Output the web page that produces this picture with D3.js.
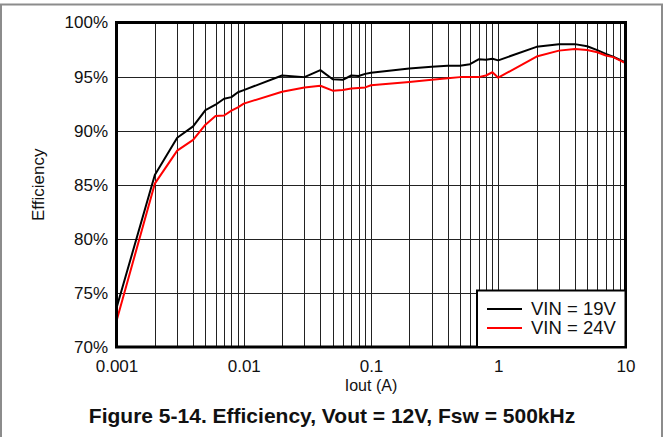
<!DOCTYPE html>
<html>
<head>
<meta charset="utf-8">
<script src="https://cdn.jsdelivr.net/npm/d3@7"></script>
<style>
  body { margin: 0; background: #fff; }
  svg { display: block; font-family: "Liberation Sans", Arial, sans-serif; }
  .grid line { stroke: #222; stroke-width: 1; shape-rendering: crispEdges; }
  .axis path, .axis line { display: none; }
  .axis text { font-size: 17px; fill: #111; }
</style>
</head>
<body>
<div id="chart"></div>
<script>
// load current (A)
var iout = [0.001, 0.002, 0.003, 0.004, 0.005, 0.006, 0.007, 0.008, 0.009, 0.01,
            0.02, 0.03, 0.04, 0.05, 0.06, 0.07, 0.08, 0.09, 0.1,
            0.2, 0.3, 0.4, 0.5, 0.6, 0.7, 0.8, 0.9, 1,
            2, 3, 4, 5, 6, 7, 8, 10];

// efficiency (%) for each input voltage
var vin19 = [73.6, 85.9, 89.35, 90.4, 91.9, 92.4, 92.95, 93.1, 93.55, 93.75,
             95.1, 94.95, 95.6, 94.75, 94.7, 95.1, 95.05, 95.25, 95.35,
             95.75, 95.9, 96.0, 96.0, 96.15, 96.6, 96.55, 96.65, 96.5,
             97.75, 98.0, 98.0, 97.8, 97.45, 97.1, 96.85, 96.3];
var vin24 = [72.4, 85.1, 88.15, 89.15, 90.55, 91.35, 91.4, 91.85, 92.15, 92.5,
             93.6, 94.0, 94.15, 93.7, 93.75, 93.9, 93.95, 94.0, 94.2,
             94.5, 94.7, 94.85, 94.95, 94.95, 94.95, 95.1, 95.4, 94.9,
             96.85, 97.4, 97.55, 97.45, 97.25, 96.95, 96.8, 96.25];

var seriesNames = ["VIN = 19V", "VIN = 24V"];
var seriesColors = ["#000000", "#ff0000"];

var xTicks = [0.001, 0.01, 0.1, 1, 10];
var xTickLabels = ["0.001", "0.01", "0.1", "1", "10"];
var yTicks = [70, 75, 80, 85, 90, 95, 100];

var width = 664, height = 437;
var mLeft = 116.5, mRight = 625.5, mTop = 22.5, mBottom = 347;

var svg = d3.select("#chart").append("svg")
    .attr("width", width)
    .attr("height", height);

// page frame
svg.append("rect")
    .attr("x", 1).attr("y", 4.5)
    .attr("width", 661).attr("height", 440)
    .attr("fill", "none")
    .attr("stroke", "#8c8c8c")
    .attr("stroke-width", 2);

var x = d3.scaleLog().domain([0.001, 10]).range([mLeft, mRight]);
var y = d3.scaleLinear().domain([70, 100]).range([mBottom, mTop]);

// grid
var grid = svg.append("g").attr("class", "grid");
grid.selectAll(".vx")
    .data(x.ticks())
  .enter().append("line")
    .attr("x1", d => Math.round(x(d)) + 0.5)
    .attr("x2", d => Math.round(x(d)) + 0.5)
    .attr("y1", mTop).attr("y2", mBottom);
grid.selectAll(".hy")
    .data(yTicks)
  .enter().append("line")
    .attr("x1", mLeft).attr("x2", mRight)
    .attr("y1", d => Math.round(y(d)) + 0.5)
    .attr("y2", d => Math.round(y(d)) + 0.5);

// series
var line = d3.line()
    .x((d, i) => x(iout[i]))
    .y(d => y(d));

[vin19, vin24].forEach(function(s, k) {
  svg.append("path")
      .datum(s)
      .attr("fill", "none")
      .attr("stroke", seriesColors[k])
      .attr("stroke-width", 2)
      .attr("stroke-linejoin", "round")
      .attr("d", line);
});

// plot border
svg.append("rect")
    .attr("x", mLeft).attr("y", mTop)
    .attr("width", mRight - mLeft).attr("height", mBottom - mTop)
    .attr("fill", "none")
    .attr("stroke", "#000")
    .attr("stroke-width", 3);

// axes
svg.append("g")
    .attr("class", "axis")
    .attr("transform", "translate(0," + mBottom + ")")
    .call(d3.axisBottom(x).tickValues(xTicks)
      .tickFormat((d, i) => xTickLabels[i]).tickSize(0).tickPadding(13));

svg.append("g")
    .attr("class", "axis")
    .attr("transform", "translate(" + mLeft + ",0)")
    .call(d3.axisLeft(y).tickValues(yTicks)
      .tickFormat(d => d + "%").tickSize(0).tickPadding(8.5));

svg.append("text")
    .attr("x", (mLeft + mRight) / 2).attr("y", 391)
    .attr("text-anchor", "middle")
    .attr("font-size", 16)
    .attr("fill", "#111")
    .text("Iout (A)");

svg.append("text")
    .attr("transform", "translate(44," + (mTop + mBottom) / 2 + ") rotate(-90)")
    .attr("text-anchor", "middle")
    .attr("font-size", 17)
    .attr("fill", "#111")
    .text("Efficiency");

svg.append("text")
    .attr("x", 332).attr("y", 423)
    .attr("text-anchor", "middle")
    .attr("font-size", 21)
    .attr("font-weight", "bold")
    .attr("fill", "#111")
    .text("Figure 5-14. Efficiency, Vout = 12V, Fsw = 500kHz");

// legend
var lg = svg.append("g");
lg.append("rect")
    .attr("x", 477).attr("y", 290.5)
    .attr("width", 148.5).attr("height", 56.5)
    .attr("fill", "#fff")
    .attr("stroke", "#000")
    .attr("stroke-width", 2);
seriesNames.forEach(function(n, k) {
  var ly = 309 + k * 19;
  lg.append("line")
      .attr("x1", 487).attr("x2", 522)
      .attr("y1", ly).attr("y2", ly)
      .attr("stroke", seriesColors[k])
      .attr("stroke-width", 2);
  lg.append("text")
      .attr("x", 531).attr("y", ly + 6)
      .attr("font-size", 18.5)
      .attr("fill", "#111")
      .text(n);
});
</script>
</body>
</html>
